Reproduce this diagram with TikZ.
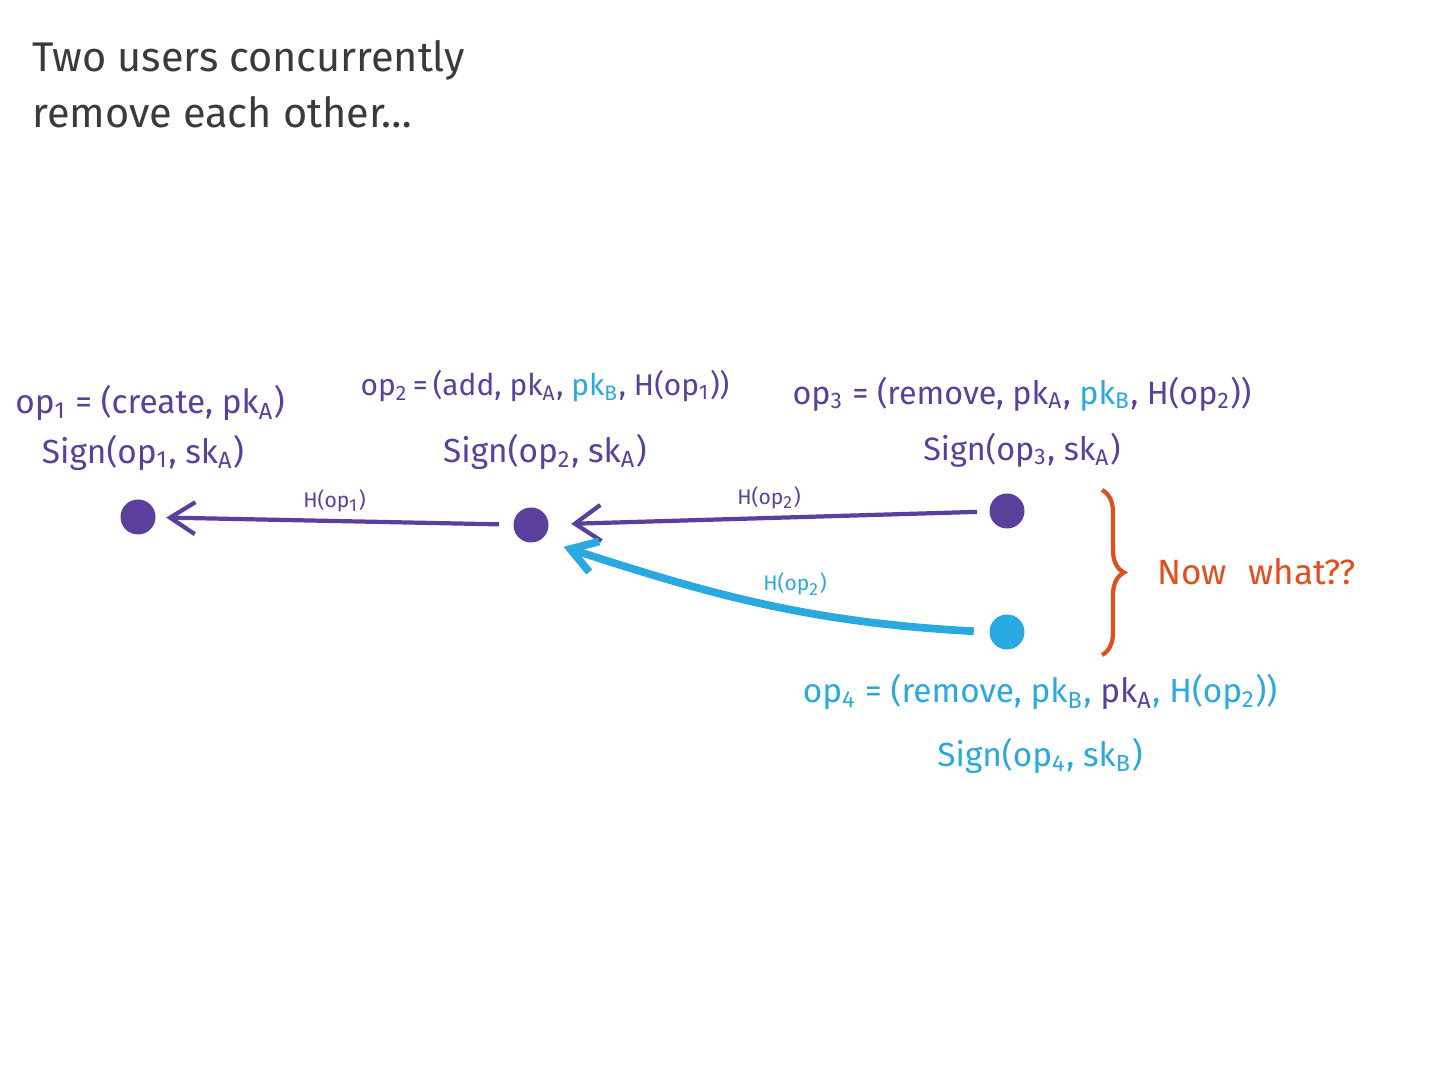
\documentclass[tikz,border=0pt]{standalone}
\usepackage{fontspec}
\setmainfont{Fira Sans}
\usetikzlibrary{arrows.meta, positioning, decorations.pathreplacing}
\definecolor{oppurple}{HTML}{5B3F9C}
\definecolor{opblue}{HTML}{2AA8E0}
\definecolor{alertorange}{HTML}{E0501E}
\definecolor{inkgray}{HTML}{3A3A3A}
\newcommand{\opn}[1]{op\textsubscript{#1}}
\newcommand{\pkey}[1]{pk\textsubscript{#1}}
\newcommand{\skey}[1]{sk\textsubscript{#1}}

\begin{document}
\begin{tikzpicture}[
  >={Straight Barb[length=2.5mm, width=3.2mm]},
  dot/.style={circle, fill=#1, minimum size=3.5mm, inner sep=0pt},
  oplbl/.style={font=\fontsize{9.5}{12}\selectfont, text=#1, align=center, inner sep=1pt},
  arr/.style={->, line width=1.2pt, draw=#1},
  hlbl/.style={font=\fontsize{6}{7}\selectfont, text=#1, inner sep=2pt},
]

% Canvas
\useasboundingbox (0,0) rectangle (14.4,-10.8);
\fill[white] (0,0) rectangle (14.4,-10.8);

% Title
\node[font=\fontsize{11.8}{16}\selectfont, text=inkgray, align=left, anchor=north west]
  (title) at (0.20,-0.28) {Two users concurrently\\remove each other\dots};

% === Operations (dots) ===
\node[dot=oppurple] (op1) at (1.38,-5.17) {};
\node[dot=oppurple] (op2) at (5.31,-5.25) {};
\node[dot=oppurple] (op3) at (10.07,-5.11) {};
\node[dot=opblue]   (op4) at (10.07,-6.32) {};

% === Operation labels ===
\node[oplbl=oppurple, align=left] (lbl1) at (1.50,-4.28)
  {\opn{1} = (create, \pkey{A})\\[2pt]
   \hspace*{0.8em}Sign(\opn{1}, \skey{A})};

\node[oplbl=oppurple] (lbl2) at (5.45,-4.20)
  {{\fontsize{8.5}{11}\selectfont
    \opn{2}\,=\,(add, \pkey{A}, {\color{opblue}\pkey{B}}, H(\opn{1}))}\\[7pt]
   Sign(\opn{2}, \skey{A})};

\node[oplbl=oppurple, font=\fontsize{9.2}{12}\selectfont] (lbl3) at (10.22,-4.22)
  {\opn{3} = (remove, \pkey{A}, {\color{opblue}\pkey{B}}, H(\opn{2}))\\[4pt]
   Sign(\opn{3}, \skey{A})};

\node[oplbl=opblue] (lbl4) at (10.40,-7.24)
  {\opn{4} = (remove, \pkey{B}, {\color{oppurple}\pkey{A}}, H(\opn{2}))\\[6pt]
   Sign(\opn{4}, \skey{B})};

% === Hash pointers ===
\draw[arr=oppurple, shorten <=1.4mm, shorten >=1mm] (op2) -- (op1)
  node[hlbl=oppurple, midway, above] {H(\opn{1})};

\draw[arr=oppurple, shorten <=1.2mm, shorten >=2.2mm,
  >={Straight Barb[length=2.6mm, width=3.6mm]}] (op3) -- (op2)
  node[hlbl=oppurple, midway, above] {H(\opn{2})};

\draw[arr=opblue, line width=2.2pt, shorten <=1.5mm, shorten >=2.3mm]
  (op4.west) to[out=177, in=-18]
  node[hlbl=opblue, pos=0.42, above=1pt] {H(\opn{2})} (op2.-54);

% === Conflict ===
\coordinate (bracetop) at (11.02,-4.90);
\coordinate (bracebot) at (11.02,-6.55);
\draw[alertorange, line width=1.2pt, decorate,
  decoration={brace, amplitude=2.2mm}] (bracetop) -- (bracebot);
\node[font=\fontsize{10}{12}\selectfont, text=alertorange, anchor=west]
  (nowwhat) at (11.45,-5.72) {Now\hspace{0.6em}what??};

\end{tikzpicture}
\end{document}
